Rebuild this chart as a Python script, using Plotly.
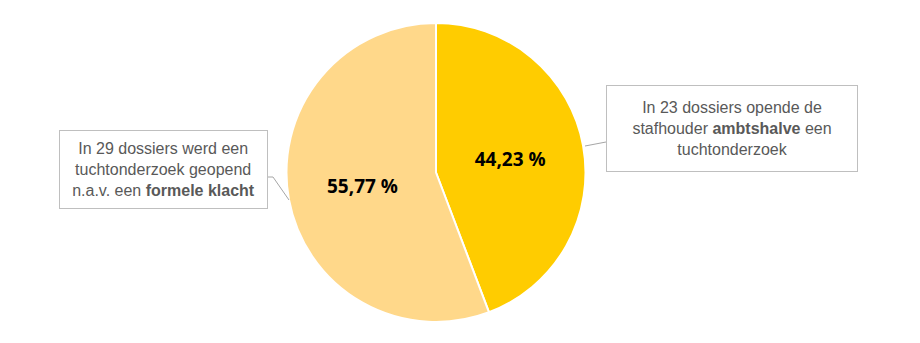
import plotly.graph_objects as go

labels = ["ambtshalve", "formele klacht"]
values = [23, 29]
colors = ["#FFCC00", "#FFD88A"]
callouts = [
    "In 23 dossiers opende de<br>stafhouder <b>ambtshalve</b> een<br>tuchtonderzoek",
    "In 29 dossiers werd een<br>tuchtonderzoek geopend<br>n.a.v. een <b>formele klacht</b>",
]

W, H = 920, 343
total = sum(values)
pct_text = [f"{v / total * 100:.2f} %".replace(".", ",") for v in values]

fig = go.Figure(go.Pie(
    labels=labels, values=values, text=pct_text,
    textinfo="text", textposition="inside", insidetextorientation="horizontal",
    texttemplate="%{text}",
    textfont=dict(family="Open Sans", size=19, color="#000000", weight="bold"),
    marker=dict(colors=colors, line=dict(color="#FFFFFF", width=2)),
    sort=False, direction="clockwise", rotation=0,
    domain=dict(x=[286.5 / W, 585.5 / W], y=[1 - 322 / H, 1 - 23 / H]),
    showlegend=False, hoverinfo="skip",
))

def px(x, y):
    return x / W, 1 - y / H

ann_font = dict(family="Liberation Sans", size=16, color="#595959")
cx, cy = px(732, 128.5)
fig.add_annotation(x=cx, y=cy, xref="paper", yref="paper", text=callouts[0],
                   showarrow=False, font=ann_font, align="center",
                   width=250, height=85, borderpad=0, bordercolor="#BFBFBF",
                   borderwidth=1, bgcolor="#FFFFFF", xanchor="center", yanchor="middle")
cx, cy = px(163.5, 169.5)
fig.add_annotation(x=cx, y=cy, xref="paper", yref="paper", text=callouts[1],
                   showarrow=False, font=ann_font, align="center",
                   width=207, height=77, borderpad=0, bordercolor="#BFBFBF",
                   borderwidth=1, bgcolor="#FFFFFF", xanchor="center", yanchor="middle")

def leader(points):
    path = "M " + " L ".join(f"{p[0] / W} {1 - p[1] / H}" for p in points)
    fig.add_shape(type="path", path=path, xref="paper", yref="paper",
                  line=dict(color="#A6A6A6", width=1))

leader([(606, 142), (585, 146)])
leader([(268, 177), (273, 177), (289, 200)])

fig.update_layout(width=W, height=H, margin=dict(l=0, r=0, t=0, b=0),
                  paper_bgcolor="#FFFFFF", plot_bgcolor="#FFFFFF")
fig.write_html("out.html")
